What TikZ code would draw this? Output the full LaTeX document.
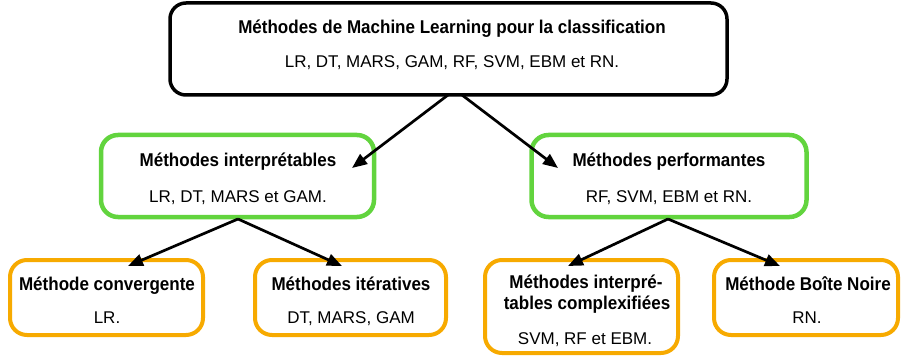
\documentclass[tikz,border=0pt]{standalone}
\usepackage{fontspec}
\setmainfont{Liberation Sans}
\newfontfamily\ttlfont[FakeStretch=0.92]{Liberation Sans Bold}
\usetikzlibrary{arrows.meta}
\definecolor{grn}{RGB}{98,212,62}
\definecolor{org}{RGB}{247,170,0}
\begin{document}
\begin{tikzpicture}[x=1pt,y=-1pt,
  box/.style={draw, fill=white, rounded corners=16pt, inner sep=0pt, outer sep=0pt},
  topbox/.style={box, draw=black, line width=3.5pt},
  gbox/.style={box, draw=grn, line width=4.5pt, rounded corners=17pt},
  obox/.style={box, draw=org, line width=4pt, rounded corners=17pt},
  ttl/.style={anchor=base, inner sep=0pt, font=\ttlfont\fontsize{18.5}{21.5}\selectfont},
  sub/.style={anchor=base, inner sep=0pt, font=\fontsize{17}{21.5}\selectfont},
  arr/.style={line width=2.7pt, -{Triangle[length=15pt,width=12pt]}}]
\useasboundingbox (0,0) rectangle (901,358);
% boxes
\node[topbox, minimum width=557pt, minimum height=92pt] (top) at (448.5,49) {};
\node[gbox, minimum width=273pt, minimum height=82pt] (gl) at (237.5,176) {};
\node[gbox, minimum width=275pt, minimum height=82pt] (gr) at (669,176) {};
\node[obox, minimum width=193pt, minimum height=75pt] (oa) at (106.5,297.5) {};
\node[obox, minimum width=191pt, minimum height=75pt] (ob) at (350.5,297.5) {};
\node[obox, minimum width=193pt, minimum height=93pt] (oc) at (581.5,306.5) {};
\node[obox, minimum width=184pt, minimum height=75pt] (od) at (806,297.5) {};
% texts
\node[ttl] (topt) at (452,34) {Méthodes de Machine Learning pour la classification};
\node[sub] (tops) at (452,68) {LR, DT, MARS, GAM, RF, SVM, EBM et RN.};
\node[ttl] (glt) at (238,167) {Méthodes interprétables};
\node[sub] (gls) at (238,202) {LR, DT, MARS et GAM.};
\node[ttl] (grt) at (669,167) {Méthodes performantes};
\node[sub] (grs) at (669,202) {RF, SVM, EBM et RN.};
\node[ttl] (oat) at (107,290) {Méthode convergente};
\node[sub] (oas) at (107,323) {LR.};
\node[ttl] (obt) at (351,290) {Méthodes itératives};
\node[sub] (obs) at (351,323) {DT, MARS, GAM};
\node[ttl] (oct1) at (586,288) {Méthodes interpré-};
\node[ttl] (oct2) at (587,309.5) {tables complexifiées};
\node[sub] (ocs) at (585,344) {SVM, RF et EBM.};
\node[ttl] (odt) at (808,290) {Méthode Boîte Noire};
\node[sub] (ods) at (807,323) {RN.};
% connector ends
\coordinate (s1) at (448,95);
\coordinate (s2) at (462,95);
\coordinate (e1) at (352,168);
\coordinate (e2) at (558,168);
\coordinate (s3) at (238,219);
\coordinate (e3) at (128,266);
\coordinate (e4) at (342,266);
\coordinate (s4) at (668,219);
\coordinate (e5) at (568,266);
\coordinate (e6) at (780,266);
\draw[arr] (s1) -- (e1);
\draw[arr] (s2) -- (e2);
\draw[arr] (s3) -- (e3);
\draw[arr] (s3) -- (e4);
\draw[arr] (s4) -- (e5);
\draw[arr] (s4) -- (e6);
\end{tikzpicture}
\end{document}
